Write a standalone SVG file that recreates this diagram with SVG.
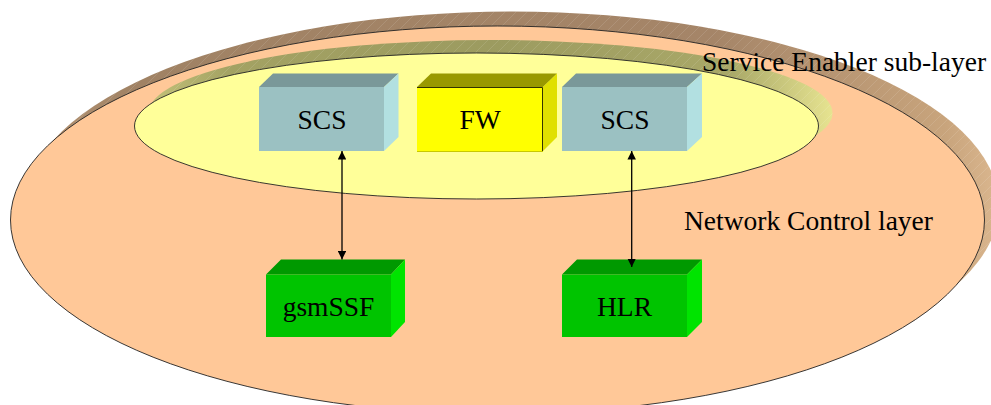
<svg xmlns="http://www.w3.org/2000/svg" width="991" height="405" viewBox="0 0 991 405">
<style>
text{font-family:"Liberation Serif","Times New Roman",serif;font-size:27.500px;fill:#000}
.c{text-anchor:middle}
.o{stroke:#222;stroke-width:.9}
.conn{stroke:#000;stroke-width:1.3;fill:none;marker-start:url(#a);marker-end:url(#a)}
.bt{fill:#7a9899}.bf{fill:#9bc1c2}.br{fill:#b2e0e1}
.gt{fill:#009900}.gf{fill:#00c400}.gr{fill:#00e400}
.yt{fill:#999900}.yf{fill:#ffff00}.yr{fill:#e0e000}
.ye{fill:none;stroke:#333300;stroke-width:1}
.yb{fill:none;stroke:#c8c800;stroke-width:1}
</style>
<defs>
<marker id="a" viewBox="0 0 10 10" refX="10" refY="5" markerWidth="8.500" markerHeight="8.500" markerUnits="userSpaceOnUse" orient="auto-start-reverse"><path d="M0 0L10 5L0 10Z" fill="#000"/></marker>
<linearGradient id="s1" gradientUnits="userSpaceOnUse" x1="60" y1="0" x2="991" y2="0"><stop offset="0" stop-color="#b09070"/><stop offset="0.08" stop-color="#a08264"/><stop offset="0.7" stop-color="#a58568"/><stop offset="0.95" stop-color="#c8a47c"/><stop offset="1" stop-color="#d8b48c"/></linearGradient>
<linearGradient id="s2" gradientUnits="userSpaceOnUse" x1="150" y1="0" x2="832" y2="0"><stop offset="0" stop-color="#c2c078"/><stop offset="0.12" stop-color="#a3a263"/><stop offset="0.5" stop-color="#9c9b60"/><stop offset="0.85" stop-color="#a9a868"/><stop offset="1" stop-color="#e6e390"/></linearGradient>
<pattern id="h" width="11" height="11" patternUnits="userSpaceOnUse"><path d="M0 11L11 0" stroke="#fff" stroke-opacity=".14" stroke-width=".8"/></pattern>
</defs>
<rect width="991" height="405" fill="#fff"/>
<g id="network-layer">
<ellipse cx="512" cy="205.500" rx="487" ry="194" fill="url(#s1)"/>
<ellipse cx="512" cy="205.500" rx="487" ry="194" fill="url(#h)"/>
<ellipse cx="497.500" cy="220" rx="487" ry="194" fill="#ffc898" class="o"/>
</g>
<g id="enabler-layer">
<ellipse cx="490.500" cy="113" rx="342" ry="73" fill="url(#s2)"/>
<ellipse cx="490.500" cy="113" rx="342" ry="73" fill="url(#h)"/>
<ellipse cx="476.500" cy="126" rx="342" ry="73" fill="#ffff99" class="o"/>
</g>
<g id="scs1">
<path class="bt" d="M259 87L273 73.500H398.500L384 87Z"/><path class="br" d="M384 87L398.500 73.500V137L384 151Z"/><rect class="bf" x="259" y="87" width="125" height="64"/>
<text class="c" x="322" y="129.300">SCS</text>
</g>
<g id="fw">
<path class="yt" d="M417 87L431 73.500H557L543 87Z"/><path class="yr" d="M543 87L557 73.500V137L543 151Z"/><rect class="yf" x="417" y="87" width="126" height="64"/>
<path class="ye" d="M417 87.500H542.500V151"/><path class="yb" d="M417 151.500H543"/>
<text class="c" x="480" y="129.300">FW</text>
</g>
<g id="scs2">
<path class="bt" d="M562 87L576 73.500H702L687 87Z"/><path class="br" d="M687 87L702 73.500V137L687 151Z"/><rect class="bf" x="562" y="87" width="125" height="64"/>
<text class="c" x="625" y="129.300">SCS</text>
</g>
<g id="gsmssf">
<path class="gt" d="M266 274.500L281 259.500H405L391 274.500Z"/><path class="gr" d="M391 274.500L405 259.500V322L391 337Z"/><rect class="gf" x="266" y="274.500" width="125" height="62.500"/>
<text class="c" x="328.500" y="316">gsmSSF</text>
</g>
<g id="hlr">
<path class="gt" d="M562 274.500L577 259.500H702L687 274.500Z"/><path class="gr" d="M687 274.500L702 259.500V322L687 337Z"/><rect class="gf" x="562" y="274.500" width="125" height="62.500"/>
<text class="c" x="624.500" y="316">HLR</text>
</g>
<g id="connectors">
<line class="conn" x1="342" y1="151" x2="342" y2="259.500"/>
<line class="conn" x1="631.700" y1="151" x2="631.700" y2="267"/>
</g>
<g id="labels">
<text x="702" y="71">Service Enabler sub-layer</text>
<text x="684" y="229.500">Network Control layer</text>
</g>
</svg>
